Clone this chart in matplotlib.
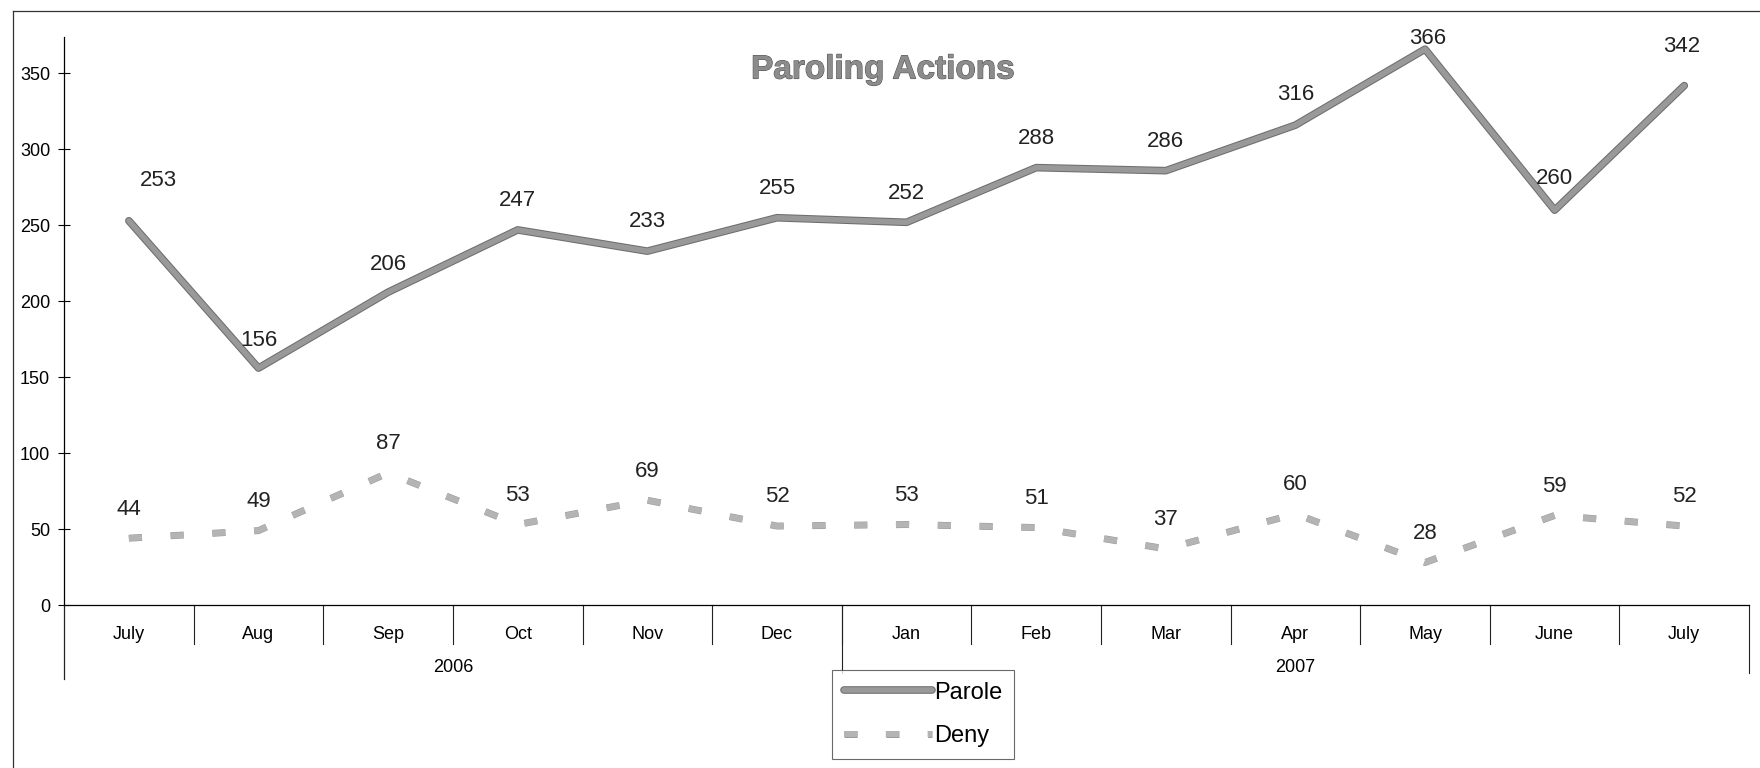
import numpy as np
import matplotlib.pyplot as plt
import matplotlib.patheffects as pe
from matplotlib.lines import Line2D

plt.rcParams['font.family'] = ['Liberation Sans', 'DejaVu Sans']

#%% data
months = ['July', 'Aug', 'Sep', 'Oct', 'Nov', 'Dec', 'Jan', 'Feb', 'Mar', 'Apr', 'May', 'June', 'July']
years = ['2006', '2007']
year_span = [(0, 5), (6, 12)]
parole = [253, 156, 206, 247, 233, 255, 252, 288, 286, 316, 366, 260, 342]
deny = [44, 49, 87, 53, 69, 52, 53, 51, 37, 60, 28, 59, 52]

# label offsets in points (x, y) - the scanned chart is not quite regular
parole_lbl = [(21, 29), (0, 20), (0, 20), (0, 21), (0, 21), (0, 21), (0, 21),
              (0, 21), (0, 21), (0, 22), (2, 8), (0, 23), (-2, 28)]
deny_lbl = [(0, 21)] * 13

#%% figure
fig = plt.figure(figsize=(17.6, 7.68), dpi=100)
ax = fig.add_axes([0.0364, 0.2122, 0.9574, 0.7396])
x = np.arange(len(months))

ax.plot(x, parole, color='#999999', lw=4.0, solid_capstyle='round', label='Parole',
        path_effects=[pe.Stroke(linewidth=5.5, foreground='#6e6e6e'), pe.Normal()])
ax.plot(x, deny, color='#b4b4b4', lw=4.3, linestyle=(0, (2.2, 4.8)), dash_capstyle='butt',
        label='Deny',
        path_effects=[pe.Stroke(linewidth=5.0, foreground='#9a9a9a'), pe.Normal()])

for i in range(len(x)):
    ax.annotate(str(parole[i]), (x[i], parole[i]), xytext=parole_lbl[i], textcoords='offset points',
                ha='center', va='center', fontsize=16, color='#222222', annotation_clip=False)
    ax.annotate(str(deny[i]), (x[i], deny[i]), xytext=deny_lbl[i], textcoords='offset points',
                ha='center', va='center', fontsize=16, color='#222222', annotation_clip=False)

ax.set_xlim(-0.5, len(months) - 0.5)
ax.set_ylim(0, 374)
ax.set_yticks(range(0, 351, 50))
ax.tick_params(axis='y', direction='inout', length=8, width=0.8, labelsize=13, pad=6)
ax.set_xticks(x)
ax.set_xticklabels(months)
ax.tick_params(axis='x', length=0, labelsize=13, pad=15)

for s in ['top', 'right']:
    ax.spines[s].set_visible(False)
ax.spines['left'].set_bounds(0, 374)
ax.spines['left'].set_linewidth(0.9)
ax.spines['bottom'].set_linewidth(0.9)

# category boundaries and year grouping below the axis
tr = ax.get_xaxis_transform()
for b in np.arange(0.5, len(months) - 1, 1.0):
    ax.plot([b, b], [0, -0.068], transform=tr, color='#222222', lw=0.8, clip_on=False)
ax.plot([-0.5, -0.5], [0, -0.13], transform=tr, color='#222222', lw=0.9, clip_on=False)
ax.plot([5.5, 5.5], [0, -0.12], transform=tr, color='#222222', lw=0.8, clip_on=False)
ax.plot([12.5, 12.5], [0, -0.12], transform=tr, color='#222222', lw=0.8, clip_on=False)
for yr, (a, b) in zip(years, year_span):
    ax.text((a + b) / 2, -0.11, yr, transform=tr, ha='center', va='center', fontsize=13)

fig.text(787 * 1.1224 / 1760, 1 - 70 / 768, 'Paroling Actions', fontsize=24, fontweight='bold',
         color='#8c8c8c', ha='center', va='center',
         path_effects=[pe.withStroke(linewidth=0.8, foreground='#555555')])

leg = ax.legend(loc='upper left', bbox_to_anchor=(0.456, -0.114), fontsize=17,
                frameon=True, fancybox=False, edgecolor='#444444', handlelength=3.7,
                handletextpad=0.1, borderpad=0.5, labelspacing=0.9, borderaxespad=0)
leg.get_frame().set_linewidth(0.8)

# outer frame of the scanned page
fig.add_artist(Line2D([13 / 1760, 13 / 1760], [0, 1 - 11 / 768], color='#333333', lw=0.9))
fig.add_artist(Line2D([13 / 1760, 1], [1 - 11 / 768, 1 - 11 / 768], color='#333333', lw=0.9))

fig.savefig('out.png', dpi=100)
